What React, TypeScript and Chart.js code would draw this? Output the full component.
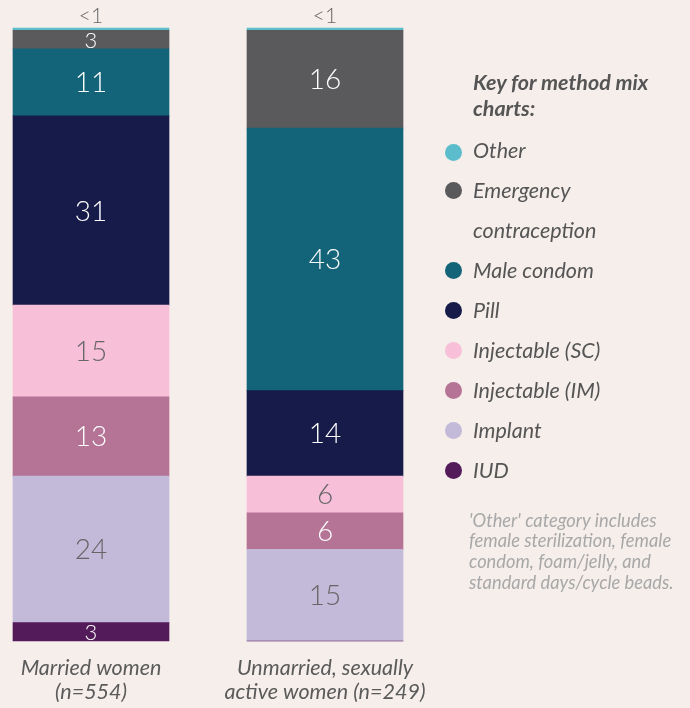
import React, { useEffect, useRef } from "react";
import { Chart, registerables } from "chart.js";

Chart.register(...registerables);

// ---- Data ----
const categories = [
  ["Married women", "(n=554)"],
  ["Unmarried, sexually", "active women (n=249)"],
];
const methods = [
  "IUD",
  "Implant",
  "Injectable (IM)",
  "Injectable (SC)",
  "Pill",
  "Male condom",
  "Emergency contraception",
  "Other",
];
const marriedValues = [3, 24, 13, 15, 31, 11, 3, 0.4];
const unmarriedValues = [0, 15, 6, 6, 14, 43, 16, 0.4];
const methodColors = [
  "#541b5a",
  "#c3b9d9",
  "#b57396",
  "#f7bfd8",
  "#161b4a",
  "#136478",
  "#5a5a5c",
  "#5bbccc",
];
const labelColors = [
  "#ffffff",
  "#666666",
  "#ffffff",
  "#666666",
  "#ffffff",
  "#ffffff",
  "#ffffff",
  "#666666",
];
const legendTitle = ["Key for method mix", "charts:"];
const footnoteLines = [
  "'Other' category includes",
  "female sterilization, female",
  "condom, foam/jelly, and",
  "standard days/cycle beads.",
];

const BG = "#f5eeeb";
const NUM_FONT = "Lato";

const valueLabels = {
  id: "valueLabels",
  afterDatasetsDraw(chart: any) {
    const ctx = chart.ctx;
    chart.data.datasets.forEach((ds: any, di: number) => {
      const meta = chart.getDatasetMeta(di);
      meta.data.forEach((bar: any, i: number) => {
        const v = ds.data[i];
        if (!v) return;
        const { x, y, base } = bar.getProps(["x", "y", "base"], true);
        ctx.save();
        ctx.textAlign = "center";
        ctx.textBaseline = "middle";
        if (v < 1) {
          ctx.fillStyle = "#666666";
          ctx.font = `300 21px ${NUM_FONT}`;
          ctx.fillText("<1", x, y - 12);
        } else {
          const h = Math.abs(base - y);
          const size = h < 30 ? 22 : 28;
          ctx.fillStyle = labelColors[di];
          ctx.font = `300 ${size}px ${NUM_FONT}`;
          ctx.fillText(String(v), x, (y + base) / 2 + 1);
        }
        ctx.restore();
      });
    });
  },
};

function StackedChart() {
  const ref = useRef<HTMLCanvasElement | null>(null);
  useEffect(() => {
    if (!ref.current) return;
    const chart = new Chart(ref.current, {
      type: "bar",
      data: {
        labels: categories as any,
        datasets: methods.map((m, i) => ({
          label: m,
          data: [marriedValues[i], unmarriedValues[i]],
          backgroundColor: methodColors[i],
          borderWidth: 0,
          barThickness: 156,
          clip: false as any,
        })),
      },
      options: {
        animation: false,
        responsive: false,
        maintainAspectRatio: false,
        layout: { padding: { left: 91, right: 365, top: 28, bottom: 1 } },
        plugins: { legend: { display: false }, tooltip: { enabled: false } },
        scales: {
          x: {
            stacked: true,
            offset: false,
            grid: { display: false, drawTicks: false },
            border: { display: false },
            ticks: {
              autoSkip: false,
              maxRotation: 0,
              minRotation: 0,
              padding: 15,
              color: "#5a5a5a",
              font: { family: "Lato", size: 21.5, style: "italic", lineHeight: 24 / 21.5 },
            },
          },
          y: {
            stacked: true,
            display: false,
            min: 0,
            max: 100.4,
          },
        },
      },
      plugins: [valueLabels],
    } as any);
    return () => chart.destroy();
  }, []);
  return (
    <canvas
      ref={ref}
      width={690}
      height={720}
      style={{ position: "absolute", left: 0, top: 0, width: 690, height: 720 }}
    />
  );
}

export default function App() {
  const legendRows: { text: string; color: string | null }[] = [];
  for (let i = methods.length - 1; i >= 0; i--) {
    if (methods[i] === "Emergency contraception") {
      legendRows.push({ text: "Emergency", color: methodColors[i] });
      legendRows.push({ text: "contraception", color: null });
    } else {
      legendRows.push({ text: methods[i], color: methodColors[i] });
    }
  }
  return (
    <div
      style={{
        position: "fixed",
        left: 0,
        top: 0,
        width: 690,
        height: 708,
        background: BG,
        overflow: "hidden",
        fontFamily: "Lato, sans-serif",
      }}
    >
      <StackedChart />
      {legendTitle.map((t, i) => (
        <div
          key={"t" + i}
          style={{
            position: "absolute",
            left: 473,
            top: 82 + i * 26 - 13.5,
            fontSize: 21.5,
            lineHeight: "26px",
            fontWeight: 700,
            fontStyle: "italic",
            color: "#555555",
            whiteSpace: "nowrap",
          }}
        >
          {t}
        </div>
      ))}
      {legendRows.map((r, i) => {
        const cy = 150 + i * 40;
        return (
          <React.Fragment key={"r" + i}>
            {r.color && (
              <div
                style={{
                  position: "absolute",
                  left: 445,
                  top: cy - 8.5 + (i === 0 ? 2 : 0),
                  width: 17,
                  height: 17,
                  borderRadius: "50%",
                  background: r.color,
                }}
              />
            )}
            <div
              style={{
                position: "absolute",
                left: 473,
                top: cy - 13.5,
                fontSize: 21.5,
                lineHeight: "26px",
                fontStyle: "italic",
                color: "#555555",
                whiteSpace: "nowrap",
              }}
            >
              {r.text}
            </div>
          </React.Fragment>
        );
      })}
      {footnoteLines.map((t, i) => (
        <div
          key={"f" + i}
          style={{
            position: "absolute",
            left: 469,
            top: 520 + i * 20.7 - 11.5,
            fontSize: 18.3,
            lineHeight: "22px",
            fontStyle: "italic",
            color: "#a8a8a8",
            whiteSpace: "nowrap",
          }}
        >
          {t}
        </div>
      ))}
    </div>
  );
}
